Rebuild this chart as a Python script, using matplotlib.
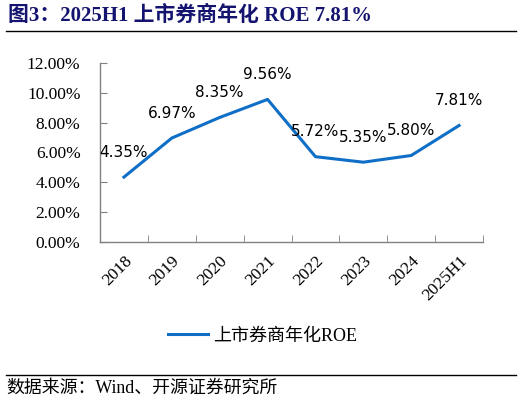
import matplotlib
matplotlib.use("Agg")
import matplotlib.pyplot as plt
from matplotlib.lines import Line2D
import numpy as np

categories = ["2018", "2019", "2020", "2021", "2022", "2023", "2024", "2025H1"]
roe = [4.35, 6.97, 8.35, 9.56, 5.72, 5.35, 5.80, 7.81]
y_ticks = [0, 2, 4, 6, 8, 10, 12]
series_name = "上市券商年化ROE"
title = "图3：2025H1 上市券商年化 ROE 7.81%"
source = "数据来源：Wind、开源证券研究所"

serif_cjk = ["Liberation Serif", "Noto Sans CJK SC"]
W, H = 522, 405
fig = plt.figure(figsize=(W / 100, H / 100), dpi=100)

ax = fig.add_axes([100 / W, 1 - 242 / H, 383 / W, 179 / H])
x = np.arange(len(categories))
line_color = "#0F6FC6"
ax.plot(x, roe, color=line_color, lw=2.2, solid_joinstyle="round")
for xi, v in zip(x, roe):
    ax.annotate(f"{v:.2f}%", (xi, v), xytext=(0, 18), textcoords="offset points",
                ha="center", va="center", fontsize=11, family="DejaVu Sans", color="black")

ax.set_xlim(-0.5, len(categories) - 0.5)
ax.set_ylim(0, 12)
ax.set_yticks(y_ticks)
ax.set_yticklabels([f"{t:.2f}%" for t in y_ticks], family=serif_cjk, fontsize=12.5)
ax.set_xticks(x)
ax.set_xticklabels(categories, rotation=45, ha="right", va="top", rotation_mode="anchor",
                   family=serif_cjk, fontsize=12.5)
ax.set_xticks(np.arange(-0.5, len(categories)), minor=True)
ax.tick_params(axis="x", which="major", length=0, pad=8)
ax.tick_params(axis="x", which="minor", direction="in", length=5, color="#808080")
ax.tick_params(axis="y", direction="in", length=5, color="#808080", pad=14)
for s in ["top", "right"]:
    ax.spines[s].set_visible(False)
for s in ["left", "bottom"]:
    ax.spines[s].set_color("#808080")
    ax.spines[s].set_linewidth(1.0)

handle = Line2D([], [], color=line_color, lw=2.2)
fig.legend([handle], [series_name], loc="center", bbox_to_anchor=(263 / W, 1 - 336 / H),
           frameon=False, prop={"family": serif_cjk, "size": 13}, handlelength=2.2,
           handletextpad=0.3)

fig.text(8 / W, 1 - 16 / H, title, ha="left", va="center", fontsize=15, fontweight="bold",
         color="#141470", family=serif_cjk)
fig.add_artist(Line2D([6 / W, 516 / W], [1 - 31 / H, 1 - 31 / H], color="black", lw=1.0))
fig.add_artist(Line2D([6 / W, 516 / W], [1 - 375 / H, 1 - 375 / H], color="black", lw=1.0))
fig.text(6 / W, 1 - 388 / H, source, ha="left", va="center", fontsize=12.9, family=serif_cjk,
         color="black")

fig.savefig("out.png", dpi=100)
